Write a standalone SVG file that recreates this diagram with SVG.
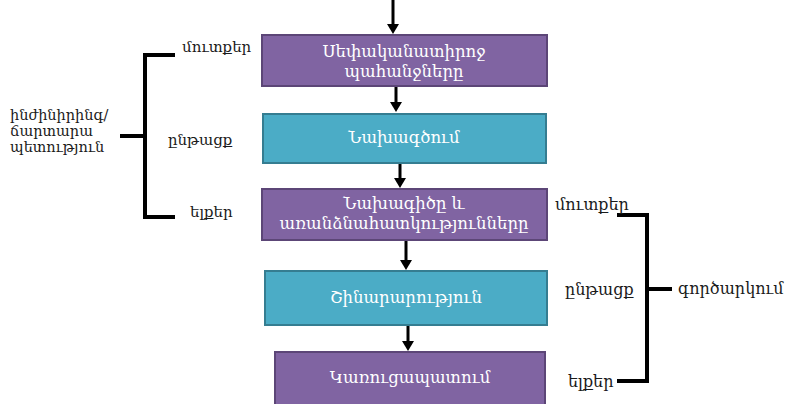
<svg xmlns="http://www.w3.org/2000/svg" width="789" height="404" viewBox="0 0 789 404">
<defs>
<style>
.p{fill:#8064A2;stroke:#5C4677;stroke-width:2}
.t{fill:#4BACC6;stroke:#357D91;stroke-width:2}
.bt{font-family:"DejaVu Serif","Liberation Serif",serif;font-size:16.5px;fill:#ffffff;text-anchor:middle}
.lb{font-family:"DejaVu Serif","Liberation Serif",serif;font-size:15px;fill:#1a1a1a}
.rb{font-family:"DejaVu Serif","Liberation Serif",serif;font-size:16px;fill:#1a1a1a}
.ar{stroke:#000;stroke-width:3;fill:none}
.hd{fill:#000}
.br{stroke:#000;stroke-width:4;fill:none}
</style>
</defs>
<rect width="789" height="404" fill="#ffffff"/>
<g id="connectors">
<line class="ar" x1="393" y1="0" x2="393" y2="26"/><path class="hd" d="M387,24 H399 L393,34 Z"/>
<line class="ar" x1="396" y1="87" x2="396" y2="104"/><path class="hd" d="M390,102 H402 L396,112 Z"/>
<line class="ar" x1="400" y1="164" x2="400" y2="180"/><path class="hd" d="M394,178 H406 L400,188 Z"/>
<line class="ar" x1="406" y1="241" x2="406" y2="262"/><path class="hd" d="M400,260 H412 L406,270 Z"/>
<line class="ar" x1="408" y1="326" x2="408" y2="343"/><path class="hd" d="M402,341 H414 L408,351 Z"/>
<path class="br" d="M175,55 H145 V217 H175 M120,136 H145"/>
<path class="br" d="M617,215 H647 V381 H617 M647,289 H672"/>
</g>
<g id="n1"><rect class="p" x="262" y="35" width="285" height="51"/>
<text class="bt" x="404" y="57">Սեփականատիրոջ</text><text class="bt" x="404" y="77">պահանջները</text></g>
<g id="n2"><rect class="t" x="263" y="114" width="283" height="49"/>
<text class="bt" x="404" y="143">Նախագծում</text></g>
<g id="n3"><rect class="p" x="262" y="189" width="285" height="51"/>
<text class="bt" x="404" y="209">Նախագիծը և</text><text class="bt" x="404" y="229">առանձնահատկությունները</text></g>
<g id="n4"><rect class="t" x="265" y="271" width="282" height="54"/>
<text class="bt" x="406" y="303">Շինարարություն</text></g>
<g id="n5"><rect class="p" x="275" y="352" width="270" height="56"/>
<text class="bt" x="410" y="383">Կառուցապատում</text></g>
<g id="left-labels">
<text class="lb" x="182" y="52">մուտքեր</text>
<text class="lb" x="168" y="145">ընթացք</text>
<text class="lb" x="190" y="217">ելքեր</text>
<text class="lb" x="10" y="120" style="font-size:14.5px">ինժինիրինգ/</text>
<text class="lb" x="10" y="136" style="font-size:14.5px">ճարտարա</text>
<text class="lb" x="10" y="152" style="font-size:14.5px">պետություն</text>
</g>
<g id="right-labels">
<text class="rb" x="555" y="210">մուտքեր</text>
<text class="rb" x="565" y="295">ընթացք</text>
<text class="rb" x="568" y="387">ելքեր</text>
<text class="rb" x="678" y="294">գործարկում</text>
</g>
</svg>
